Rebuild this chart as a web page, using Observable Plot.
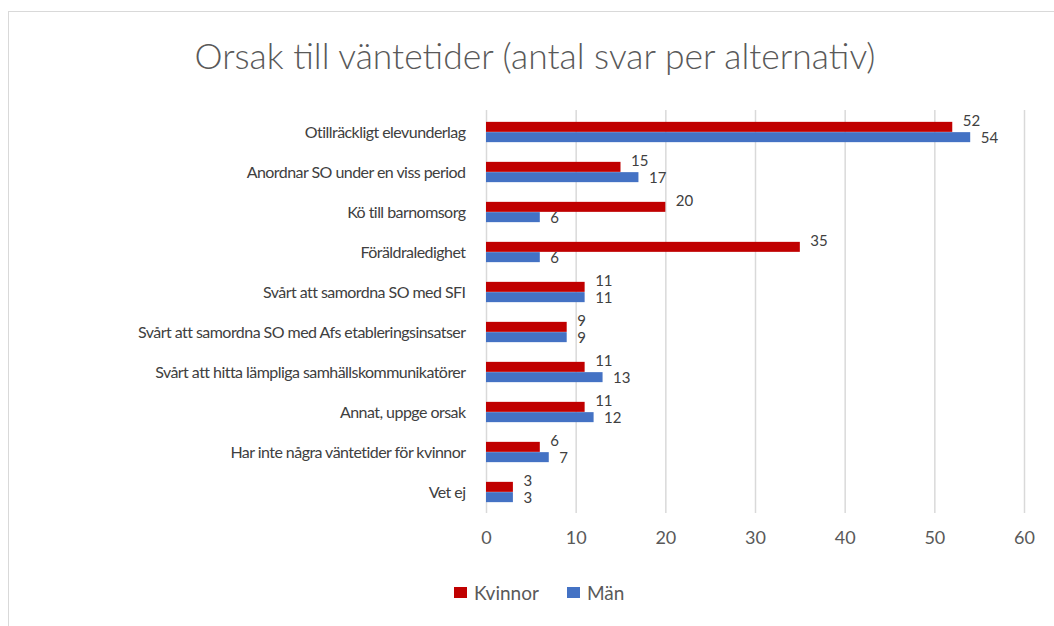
<!DOCTYPE html>
<html>
<head>
<meta charset="utf-8">
<script src="https://cdn.jsdelivr.net/npm/d3@7"></script>
<script src="https://cdn.jsdelivr.net/npm/@observablehq/plot@0.6"></script>
<style>
  html, body { margin: 0; padding: 0; background: #fff; }
  body { width: 1054px; height: 626px; position: relative; overflow: hidden; font-family: Lato, "Open Sans", sans-serif; }
  #frame { position: absolute; left: 8px; top: 11px; width: 1100px; height: 700px; border: 1px solid #d9d9d9; box-sizing: border-box; }
  #title { position: absolute; left: 0; top: 35px; width: 1070px; text-align: center; color: #595959; font-size: 30px; white-space: nowrap; line-height: 1.2; font-weight: 300; }
  #title span { display: inline-block; }
  #chart { position: absolute; left: 0; top: 95px; }
  #legend { position: absolute; top: 580px; left: 0; width: 1054px; height: 24px; color: #595959; font-size: 19px; }
  .item { position: absolute; top: 0; display: flex; align-items: center; height: 24px; }
  .sw { width: 13px; height: 11px; margin-right: 7px; }
</style>
</head>
<body>
<div id="frame"></div>
<div id="title"><span id="titleText">Orsak till väntetider (antal svar per alternativ)</span></div>
<div id="chart"></div>
<div id="legend"></div>
<script>
// ---- data ----
const categories = [
  "Otillräckligt elevunderlag",
  "Anordnar SO under en viss period",
  "Kö till barnomsorg",
  "Föräldraledighet",
  "Svårt att samordna SO med SFI",
  "Svårt att samordna SO med Afs etableringsinsatser",
  "Svårt att hitta lämpliga samhällskommunikatörer",
  "Annat, uppge orsak",
  "Har inte några väntetider för kvinnor",
  "Vet ej"
];
const kvinnor = [52, 15, 20, 35, 11, 9, 11, 11, 6, 3];
const man = [54, 17, 6, 6, 11, 9, 13, 12, 7, 3];
const seriesNames = ["Kvinnor", "Män"];
const seriesColors = ["#C00000", "#4472C4"];
const xTicks = [0, 10, 20, 30, 40, 50, 60];

const rows = categories.map((c, i) => ({cat: c, Kvinnor: kvinnor[i], Man: man[i]}));

const height = 470, marginTop = 15, marginBottom = 52;
const band = (height - marginTop - marginBottom) / categories.length;
const barH = 10.3;

const plot = Plot.plot({
  width: 1054,
  height,
  marginLeft: 486,
  marginRight: 30,
  marginTop,
  marginBottom,
  style: {fontFamily: "Lato, 'Open Sans', sans-serif", background: "transparent"},
  x: {domain: [0, 60], ticks: xTicks, label: null},
  y: {type: "band", domain: categories, padding: 0, label: null},
  marks: [
    Plot.gridX(xTicks, {stroke: "#d9d9d9", strokeOpacity: 1, strokeWidth: 1.5}),
    Plot.barX(rows, {x: "Kvinnor", y: "cat", fill: seriesColors[0], insetTop: band / 2 - barH, insetBottom: band / 2}),
    Plot.barX(rows, {x: "Man", y: "cat", fill: seriesColors[1], insetTop: band / 2, insetBottom: band / 2 - barH}),
    Plot.text(rows, {x: "Kvinnor", y: "cat", text: d => String(d.Kvinnor), dx: 10, dy: -11, textAnchor: "start", fontSize: 15, fill: "#404040"}),
    Plot.text(rows, {x: "Man", y: "cat", text: d => String(d.Man), dx: 10, dy: 6, textAnchor: "start", fontSize: 15, fill: "#404040"}),
    Plot.axisY({tickSize: 0, tickPadding: 21, fontSize: 16, color: "#404040", label: null}),
    Plot.axisX({ticks: xTicks, tickSize: 0, tickPadding: 18, fontSize: 18, color: "#595959", label: null})
  ]
});
document.getElementById("chart").appendChild(plot);

// condense category labels to match the narrow reference face
d3.select(plot).selectAll("g[aria-label='y-axis tick label'] text").style("letter-spacing", "-0.55px");

// legend
const legend = document.getElementById("legend");
const legendX = [454, 567];
seriesNames.forEach((n, i) => {
  const it = document.createElement("div");
  it.className = "item";
  it.style.left = legendX[i] + "px";
  const sw = document.createElement("span");
  sw.className = "sw";
  sw.style.background = seriesColors[i];
  const t = document.createElement("span");
  t.textContent = n;
  it.appendChild(sw); it.appendChild(t);
  legend.appendChild(it);
});

// fit title width to reference (~681px)
const tt = document.getElementById("titleText");
const w = tt.getBoundingClientRect().width;
if (w > 0) tt.style.fontSize = (30 * 681 / w).toFixed(2) + "px";
</script>
</body>
</html>
